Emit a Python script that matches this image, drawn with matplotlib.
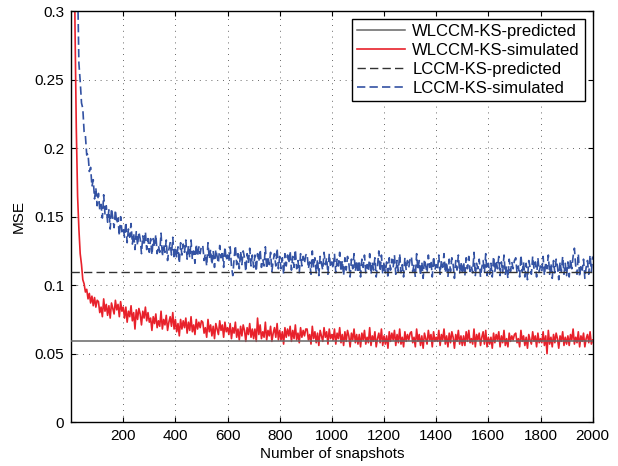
#%%
import numpy as np
import matplotlib
matplotlib.use("Agg")
import matplotlib.pyplot as plt

plt.rcParams['font.family'] = ['Liberation Sans', 'DejaVu Sans']

#%%
# snapshots sampled every 5, MSE values in units of 1e-3 read off the picture
snapshots = np.arange(5, 2001, 5)

wlccmSim = [
    600, 420, 290, 215, 165, 141, 123, 115, 104, 101, 95, 97, 90, 94, 87, 92, 85, 91, 84, 89,
    88, 80, 84, 77, 90, 81, 86, 78, 85, 76, 87, 83, 79, 89, 82, 86, 77, 88, 81, 84,
    76, 84, 73, 81, 77, 85, 74, 80, 68, 82, 75, 83, 79, 71, 81, 76, 84, 74, 80, 73,
    76, 67, 77, 72, 79, 69, 74, 70, 81, 68, 75, 71, 78, 67, 73, 77, 70, 80, 68, 75,
    66, 72, 63, 75, 68, 74, 69, 76, 65, 73, 67, 77, 66, 71, 64, 75, 68, 73, 69, 74,
    73, 65, 69, 62, 75, 66, 71, 63, 70, 61, 72, 68, 64, 74, 67, 71, 62, 73, 66, 69,
    64, 72, 61, 69, 65, 73, 62, 68, 60, 70, 63, 71, 67, 59, 69, 64, 72, 62, 68, 61,
    68, 59, 76, 64, 71, 61, 66, 62, 73, 60, 67, 63, 70, 59, 65, 69, 62, 72, 60, 67,
    60, 66, 57, 69, 62, 68, 63, 70, 59, 67, 61, 71, 60, 65, 58, 69, 62, 67, 63, 68,
    68, 60, 64, 57, 70, 61, 66, 58, 65, 56, 67, 63, 59, 69, 62, 66, 57, 68, 61, 64,
    60, 68, 57, 65, 61, 69, 58, 64, 56, 66, 59, 67, 63, 55, 65, 60, 68, 58, 64, 57,
    64, 55, 65, 60, 67, 57, 62, 58, 69, 56, 63, 59, 66, 55, 61, 65, 58, 68, 56, 63,
    57, 63, 54, 66, 59, 65, 60, 67, 56, 64, 58, 68, 57, 62, 55, 66, 59, 64, 60, 65,
    66, 58, 62, 55, 68, 59, 64, 56, 63, 54, 65, 61, 57, 67, 60, 64, 55, 66, 59, 62,
    59, 67, 56, 64, 60, 68, 57, 63, 55, 65, 58, 66, 62, 54, 64, 59, 67, 57, 63, 56,
    63, 56, 66, 59, 67, 58, 61, 57, 68, 55, 64, 60, 65, 56, 62, 66, 57, 67, 55, 62,
    57, 62, 54, 65, 58, 64, 60, 66, 55, 63, 58, 67, 56, 61, 55, 65, 59, 63, 60, 64,
    65, 58, 61, 55, 67, 59, 63, 56, 62, 54, 64, 60, 57, 66, 59, 63, 55, 65, 58, 61,
    58, 66, 56, 63, 50, 67, 57, 62, 55, 64, 58, 65, 61, 54, 63, 59, 66, 56, 62, 57,
    63, 56, 64, 60, 68, 57, 62, 58, 66, 55, 63, 59, 65, 55, 61, 64, 58, 66, 57, 60,
]

lccmSim = [
    700, 520, 420, 360, 320, 262, 249, 233, 229, 212, 209, 195, 196, 183, 186, 172, 177, 163, 171, 158,
    167, 155, 159, 149, 166, 152, 158, 146, 155, 141, 156, 149, 142, 155, 145, 149, 136, 150, 139, 142,
    135, 146, 131, 141, 135, 145, 130, 138, 126, 139, 129, 139, 134, 123, 136, 129, 139, 126, 134, 124,
    134, 122, 134, 128, 137, 123, 129, 124, 138, 121, 130, 124, 133, 118, 126, 131, 122, 135, 119, 128,
    120, 128, 116, 131, 122, 130, 124, 133, 119, 129, 120, 133, 119, 125, 116, 130, 121, 128, 123, 129,
    129, 118, 123, 114, 131, 119, 126, 115, 125, 113, 126, 121, 116, 129, 120, 125, 113, 128, 118, 122,
    117, 128, 114, 107, 119, 129, 115, 123, 112, 125, 115, 125, 120, 110, 123, 116, 127, 114, 122, 113,
    122, 110, 123, 117, 126, 113, 119, 114, 128, 112, 121, 115, 124, 110, 118, 123, 114, 127, 112, 121,
    112, 120, 108, 123, 114, 122, 116, 125, 111, 121, 113, 126, 112, 118, 109, 123, 114, 121, 116, 122,
    123, 112, 117, 108, 125, 113, 120, 109, 119, 107, 121, 116, 111, 124, 115, 120, 108, 123, 113, 117,
    112, 123, 109, 119, 114, 124, 110, 118, 107, 120, 111, 121, 116, 106, 119, 112, 123, 110, 118, 109,
    118, 106, 119, 113, 122, 109, 115, 110, 123, 108, 117, 111, 120, 106, 114, 125, 110, 122, 108, 117,
    109, 117, 105, 120, 111, 119, 113, 122, 108, 118, 110, 123, 109, 115, 106, 120, 111, 118, 113, 119,
    121, 110, 115, 106, 123, 111, 118, 107, 117, 105, 119, 114, 109, 122, 113, 118, 106, 121, 111, 115,
    111, 122, 108, 118, 113, 123, 109, 117, 106, 119, 110, 120, 115, 105, 118, 111, 122, 109, 117, 108,
    117, 107, 120, 112, 121, 110, 114, 109, 124, 107, 116, 112, 119, 106, 113, 118, 109, 123, 107, 116,
    108, 116, 106, 121, 110, 118, 112, 121, 107, 117, 109, 122, 108, 114, 105, 119, 110, 117, 112, 118,
    120, 109, 114, 106, 122, 110, 117, 106, 116, 104, 118, 113, 108, 121, 112, 117, 106, 120, 110, 114,
    110, 121, 107, 117, 112, 122, 108, 116, 105, 118, 109, 119, 114, 104, 117, 110, 121, 108, 116, 107,
    117, 106, 119, 112, 121, 127, 114, 108, 123, 106, 115, 111, 119, 105, 113, 118, 108, 122, 110, 121,
]

wlccmPred = 0.0595
lccmPred = 0.1095

xTicks = [200, 400, 600, 800, 1000, 1200, 1400, 1600, 1800, 2000]
yTicks = [0, 0.05, 0.1, 0.15, 0.2, 0.25, 0.3]
yTickLabels = ["0", "0.05", "0.1", "0.15", "0.2", "0.25", "0.3"]

assert len(wlccmSim) == len(snapshots) == len(lccmSim)

#%%
fig = plt.figure(figsize=(6.18, 4.66), dpi=100)
ax = fig.add_axes([0.115, 0.094, 0.844, 0.882])

red = "#e8212b"
blue = "#3352a3"

ax.axhline(wlccmPred, color="0.4", lw=1.1, label="WLCCM-KS-predicted", zorder=3)
ax.plot(snapshots, np.array(wlccmSim) / 1000, color=red, lw=1.2, label="WLCCM-KS-simulated", zorder=2)
ax.axhline(lccmPred, color="0.2", lw=1.0, ls=(0, (6, 3)), label="LCCM-KS-predicted", zorder=3)
ax.plot(snapshots, np.array(lccmSim) / 1000, color=blue, lw=1.2, ls=(0, (5, 2.5)),
        label="LCCM-KS-simulated", zorder=2)

ax.set_xlim(0, 2000)
ax.set_ylim(0, 0.3)
ax.set_xticks(xTicks)
ax.set_yticks(yTicks)
ax.set_yticklabels(yTickLabels)
ax.tick_params(direction="in", top=True, right=True, length=3.5, width=0.8,
               labelsize=11, pad=5, colors="black")
ax.grid(True, color="0.2", ls=(0, (1, 6)), lw=0.6)
for s in ax.spines.values():
    s.set_linewidth(1.0)

ax.set_xlabel("Number of snapshots", fontsize=11, labelpad=3)
ax.set_ylabel("MSE", fontsize=11, labelpad=6)

leg = ax.legend(loc="upper right", fontsize=12, fancybox=False, framealpha=1,
                edgecolor="black", handlelength=2.9, handletextpad=0.44,
                labelspacing=0.23, borderaxespad=0.47, borderpad=0.3)
leg.get_frame().set_linewidth(1.0)

fig.savefig("out.png", dpi=100)
